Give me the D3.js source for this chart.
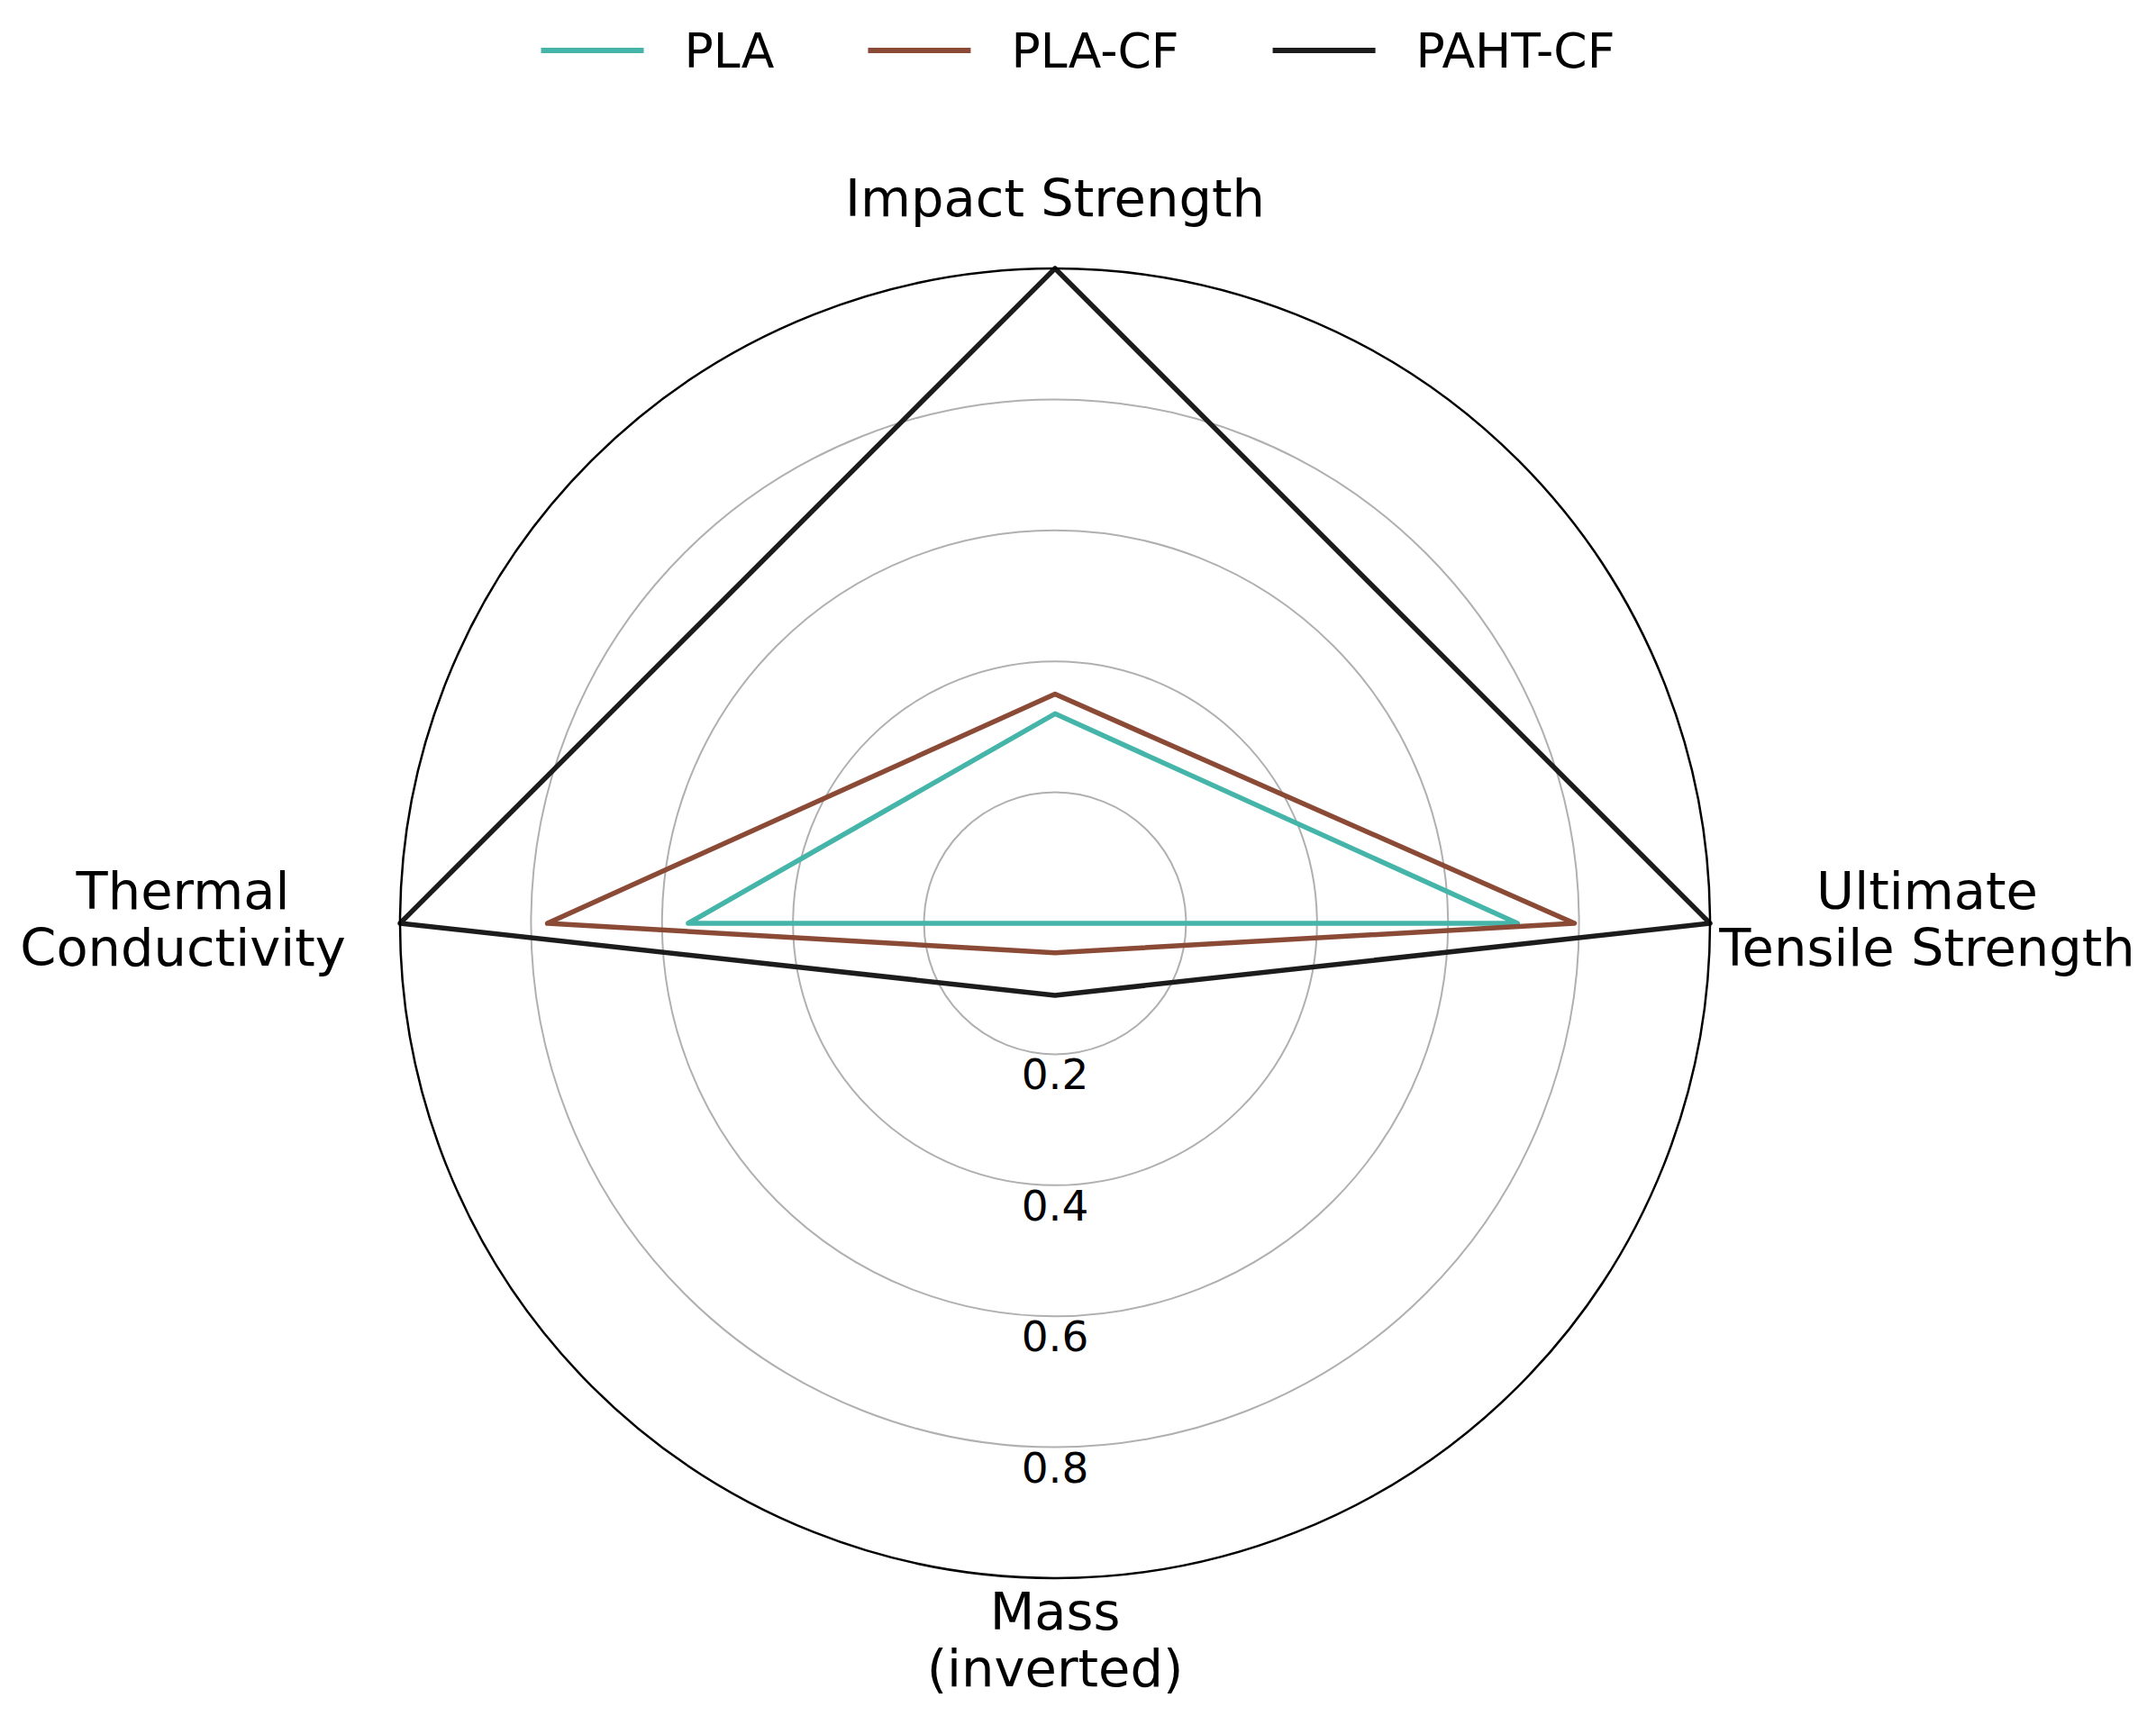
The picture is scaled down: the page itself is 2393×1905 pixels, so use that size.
<!DOCTYPE html>
<html>
<head>
<meta charset="utf-8">
<script src="https://cdn.jsdelivr.net/npm/d3@7"></script>
<style>
  html, body { margin: 0; padding: 0; background: #ffffff; }
  svg { display: block; }
  text { font-family: "DejaVu Sans", sans-serif; fill: #000; }
</style>
</head>
<body>
<div id="chart"></div>
<script>
// ---- data ----
const categories = [
  ["Impact Strength"],
  ["Ultimate", "Tensile Strength"],
  ["Mass", "(inverted)"],
  ["Thermal", "Conductivity"]
];
const seriesNames = ["PLA", "PLA-CF", "PAHT-CF"];
const plaValues = [0.32, 0.706, 0.0, 0.56];
const plaCfValues = [0.35, 0.793, 0.045, 0.775];
const pahtCfValues = [1.0, 1.0, 0.11, 1.0];
const radialTicks = [0.2, 0.4, 0.6, 0.8];
const tickLabels = ["0.2", "0.4", "0.6", "0.8"];
const seriesColors = ["#45b5a9", "#8b4a36", "#1c1c1c"];

const seriesValues = [plaValues, plaCfValues, pahtCfValues];

// ---- layout ----
const W = 2393, H = 1905;
const cx = 1171, cy = 1025, R = 727;
const labelFont = 57.5, tickFont = 47, legendFont = 53.5;

const svg = d3.select("#chart").append("svg")
  .attr("width", W).attr("height", H);

const r = d3.scaleLinear().domain([0, 1]).range([0, R]);
const angle = d3.scaleLinear().domain([0, categories.length]).range([0, 2 * Math.PI]);

const g = svg.append("g").attr("transform", `translate(${cx},${cy})`);

// grid rings
g.selectAll("circle.grid").data(radialTicks).enter()
  .append("circle").attr("class", "grid")
  .attr("r", d => r(d))
  .attr("fill", "none")
  .attr("stroke", "#b0b0b0")
  .attr("stroke-width", 2);

// tick labels at bottom (180 deg)
g.selectAll("text.tick").data(radialTicks).enter()
  .append("text").attr("class", "tick")
  .attr("x", 0)
  .attr("y", d => r(d) + 39)
  .attr("text-anchor", "middle")
  .attr("font-size", tickFont)
  .text((d, i) => tickLabels[i]);

// series
const line = d3.lineRadial()
  .angle((d, i) => angle(i))
  .radius(d => r(d))
  .curve(d3.curveLinearClosed);

g.selectAll("path.series").data(seriesValues).enter()
  .append("path").attr("class", "series")
  .attr("d", d => line(d))
  .attr("fill", "none")
  .attr("stroke", (d, i) => seriesColors[i])
  .attr("stroke-width", 5.5)
  .attr("stroke-linejoin", "round");

// outer frame
g.append("circle")
  .attr("r", r(1))
  .attr("fill", "none")
  .attr("stroke", "#000")
  .attr("stroke-width", 2.5);

// category labels
const lineH = 63;
categories.forEach((lines, i) => {
  const a = angle(i);
  const x = (R + 241) * Math.sin(a);
  const y = -(R + 73) * Math.cos(a);
  const t = g.append("text")
    .attr("text-anchor", "middle")
    .attr("font-size", labelFont);
  lines.forEach((s, k) => {
    t.append("tspan")
      .attr("x", x)
      .attr("y", y + (k - (lines.length - 1) / 2) * lineH + 15)
      .text(s);
  });
});

// legend
const legend = svg.append("g");
const lineLen = 114, textGap = 45, itemGap = 104;
const items = legend.selectAll("g.item").data(seriesNames).enter()
  .append("g").attr("class", "item");
items.append("line")
  .attr("x1", 0).attr("x2", lineLen)
  .attr("y1", 0).attr("y2", 0)
  .attr("stroke", (d, i) => seriesColors[i])
  .attr("stroke-width", 6);
items.append("text")
  .attr("x", lineLen + textGap)
  .attr("y", 19)
  .attr("font-size", legendFont)
  .text(d => d);
const widths = [];
items.each(function () {
  const tw = d3.select(this).select("text").node().getComputedTextLength();
  widths.push(lineLen + textGap + tw);
});
const total = d3.sum(widths) + itemGap * (widths.length - 1);
let start = W / 2 - total / 2;
items.attr("transform", (d, i) => {
  const x = start;
  start += widths[i] + itemGap;
  return `translate(${x},56)`;
});
</script>
</body>
</html>
